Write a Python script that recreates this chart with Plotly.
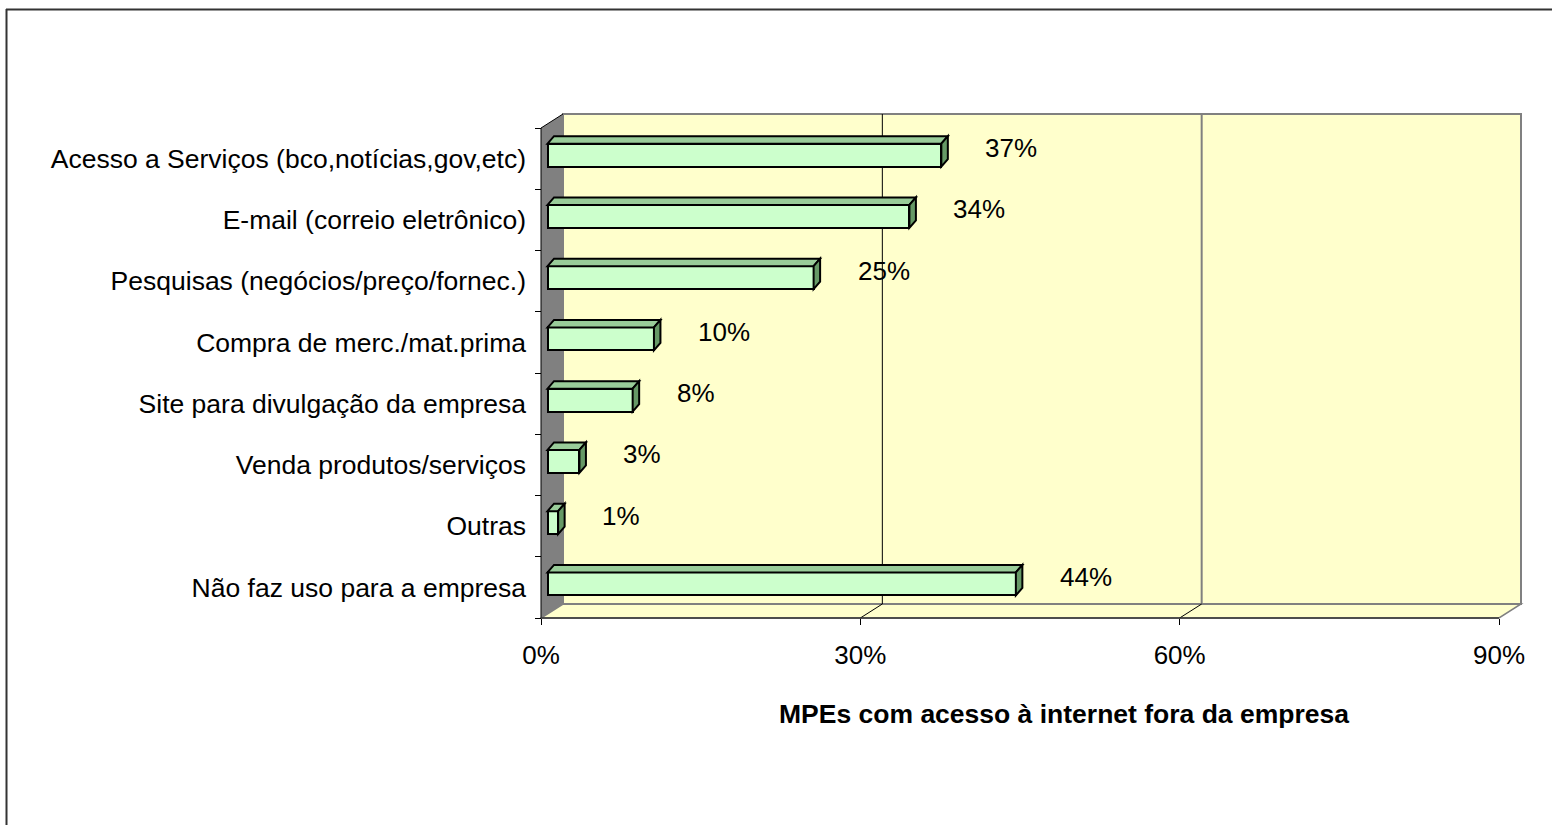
import plotly.graph_objects as go

# ---------------- data ----------------
categories = [
    "Acesso a Serviços (bco,notícias,gov,etc)",
    "E-mail (correio eletrônico)",
    "Pesquisas (negócios/preço/fornec.)",
    "Compra de merc./mat.prima",
    "Site para divulgação da empresa",
    "Venda produtos/serviços",
    "Outras",
    "Não faz uso para a empresa",
]
values = [37, 34, 25, 10, 8, 3, 1, 44]
x_ticks = [0, 30, 60, 90]
x_tick_labels = ["0%", "30%", "60%", "90%"]
gridlines = [30, 60]
axis_title = "MPEs com acesso à internet fora da empresa"

# ---------------- styles / layout geometry ----------------
FONT = "Arial, 'Liberation Sans', sans-serif"
FRONT = "#CCFFCC"
TOP = "#99CC99"
SIDE = "#669966"
WALL = "#FFFFCC"
LWALL = "#808080"
GRAY = "#808080"

W, H = 1552, 825
L, R, T, B = 525, 21, 110, 191
PW, PH = W - L - R, H - T - B
X0_PX = 541            # pixel of the front-plane x origin
FRONT_TOP_PX, FRONT_BOT_PX = 128, 618
n = len(categories)
xmax = x_ticks[-1]
K = (1499 - X0_PX) / xmax          # px per percent
KY = (FRONT_BOT_PX - FRONT_TOP_PX) / n  # px per category

y_lo, y_hi = -0.5, n - 0.5
xr = [(L - X0_PX) / K, (W - R - X0_PX) / K]
yr = [y_lo - (H - B - FRONT_BOT_PX) / KY, y_hi + (FRONT_TOP_PX - T) / KY]

wdx, wdy = 22 / K, 14 / KY        # wall depth
bsx, bsy = 6.5 / K, 3.5 / KY      # bar offset from front plane
bh = 23 / KY                      # bar front-face height
bdx, bdy = 6.5 / K, 7.5 / KY      # bar depth

pos = [n - 1 - i for i in range(n)]


def poly(pts):
    return "M " + " L ".join(f"{x},{y}" for x, y in pts) + " Z"


def px_x(p):
    return (p - L) / PW


def px_y(p):
    return (H - B - p) / PH


shapes = []
# floor
shapes.append(dict(type="path", layer="below", xref="x", yref="y",
                   path=poly([(0, y_lo), (xmax, y_lo), (xmax + wdx, y_lo + wdy), (wdx, y_lo + wdy)]),
                   fillcolor=WALL, line=dict(color=GRAY, width=1.5)))
# back wall
shapes.append(dict(type="rect", layer="below", xref="x", yref="y",
                   x0=wdx, x1=xmax + wdx, y0=y_lo + wdy, y1=y_hi + wdy,
                   fillcolor=WALL, line=dict(color=GRAY, width=2)))
# left wall
shapes.append(dict(type="path", layer="below", xref="x", yref="y",
                   path=poly([(0, y_lo), (wdx, y_lo + wdy), (wdx, y_hi + wdy), (0, y_hi)]),
                   fillcolor=LWALL, line=dict(width=0)))
shapes.append(dict(type="line", layer="below", xref="x", yref="y",
                   x0=0, y0=y_lo, x1=0, y1=y_hi, line=dict(color="black", width=1)))
shapes.append(dict(type="line", layer="below", xref="x", yref="y",
                   x0=0, y0=y_hi, x1=wdx, y1=y_hi + wdy, line=dict(color="black", width=1)))
# gridlines on back wall + floor
grid_styles = {30: ("black", 1), 60: (GRAY, 2)}
for g in gridlines:
    c, w = grid_styles.get(g, ("black", 1))
    shapes.append(dict(type="line", layer="below", xref="x", yref="y",
                       x0=g + wdx, y0=y_lo + wdy, x1=g + wdx, y1=y_hi + wdy,
                       line=dict(color=c, width=w)))
    shapes.append(dict(type="line", layer="below", xref="x", yref="y",
                       x0=g, y0=y_lo, x1=g + wdx, y1=y_lo + wdy,
                       line=dict(color="black", width=1)))
# front floor edge (category axis base)
shapes.append(dict(type="line", layer="below", xref="x", yref="y",
                   x0=0, y0=y_lo, x1=xmax, y1=y_lo, line=dict(color="#333333", width=1.5)))

# 3D faces of the bars
for v, p in zip(values, pos):
    x0, x1 = bsx, v + bsx
    yc = p + bsy
    yb, yt = yc - bh / 2, yc + bh / 2
    shapes.append(dict(type="path", layer="above", xref="x", yref="y",
                       path=poly([(x0, yt), (x1, yt), (x1 + bdx, yt + bdy), (x0 + bdx, yt + bdy)]),
                       fillcolor=TOP, line=dict(color="black", width=2)))
    shapes.append(dict(type="path", layer="above", xref="x", yref="y",
                       path=poly([(x1, yb), (x1, yt), (x1 + bdx, yt + bdy), (x1 + bdx, yb + bdy)]),
                       fillcolor=SIDE, line=dict(color="black", width=2)))

# outer chart border (left and top only visible)
shapes.append(dict(type="line", xref="paper", yref="paper",
                   x0=px_x(6.5), x1=px_x(6.5), y0=px_y(9), y1=px_y(830),
                   line=dict(color="#333333", width=2)))
shapes.append(dict(type="line", xref="paper", yref="paper",
                   x0=px_x(6), x1=px_x(1560), y0=px_y(9.5), y1=px_y(9.5),
                   line=dict(color="#333333", width=2)))

fig = go.Figure()
fig.add_trace(go.Bar(
    x=values, y=[p + bsy for p in pos], base=bsx, orientation="h", width=bh,
    marker=dict(color=FRONT, line=dict(color="black", width=2)),
    hoverinfo="skip", showlegend=False,
))
# invisible trace for the boundary-tick axis
fig.add_trace(go.Scatter(x=[None], y=[None], yaxis="y2", showlegend=False, hoverinfo="skip"))

annotations = []
for v, p in zip(values, pos):
    annotations.append(dict(x=v + bsx, y=p + bsy, xref="x", yref="y", text=f"{v}%",
                            xanchor="left", yanchor="middle", xshift=42, yshift=7,
                            showarrow=False, font=dict(family=FONT, size=26, color="black")))
annotations.append(dict(x=px_x(1064), y=px_y(714), xref="paper", yref="paper",
                        text=f"<b>{axis_title}</b>", showarrow=False,
                        xanchor="center", yanchor="middle",
                        font=dict(family=FONT, size=26.5, color="black")))

fig.update_layout(
    width=W, height=H,
    margin=dict(l=L, r=R, t=T, b=B, pad=0),
    paper_bgcolor="white", plot_bgcolor="rgba(0,0,0,0)",
    bargap=0, showlegend=False,
    font=dict(family=FONT, size=26, color="black"),
    xaxis=dict(range=xr, anchor="free", position=px_y(FRONT_BOT_PX),
               tickvals=x_ticks, ticktext=x_tick_labels,
               ticks="outside", ticklen=6, tickwidth=1, tickcolor="black",
               ticklabelstandoff=8,
               showgrid=False, zeroline=False, showline=False,
               tickfont=dict(family=FONT, size=26, color="black"), fixedrange=True),
    yaxis=dict(range=yr, anchor="free", position=px_x(X0_PX),
               tickvals=pos, ticktext=categories, ticks="",
               ticklabelstandoff=15,
               showgrid=False, zeroline=False, showline=False,
               tickfont=dict(family=FONT, size=26.5, color="black"), fixedrange=True),
    yaxis2=dict(range=yr, overlaying="y", anchor="free", position=px_x(X0_PX), side="left",
                tickvals=[y_lo + k for k in range(n + 1)], showticklabels=False,
                ticks="outside", ticklen=6, tickwidth=1, tickcolor="black",
                showgrid=False, zeroline=False, showline=False, fixedrange=True),
    shapes=shapes,
    annotations=annotations,
)

fig.write_html("out.html", config={"displayModeBar": False},
               post_script="document.body.style.margin='0';document.body.style.overflow='hidden';")
